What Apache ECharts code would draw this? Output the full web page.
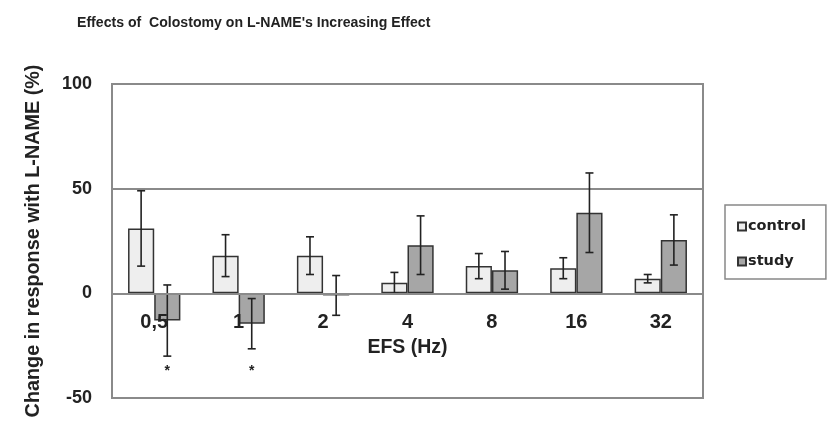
<!DOCTYPE html>
<html>
<head>
<meta charset="utf-8">
<script src="https://cdn.jsdelivr.net/npm/echarts@6/dist/echarts.min.js"></script>
<style>
  html, body { margin: 0; padding: 0; background: #fff; }
  #chart { width: 829px; height: 421px; }
</style>
</head>
<body>
<div id="chart"></div>
<script>
// EFS frequencies (Hz)
const categories = ['0,5', '1', '2', '4', '8', '16', '32'];
// Mean change in response with L-NAME (%) and its error
const controlMean = [31, 18, 18, 5, 13, 12, 7];
const controlErr = [18, 10, 9, 5, 6, 5, 2];
const studyMean = [-13, -14.5, -1, 23, 11, 38.5, 25.5];
const studyErr = [17, 12, 9.5, 14, 9, 19, 12];
// Significance markers under the study bars
const studyMarks = ['*', '*', '', '', '', '', ''];
const markLevel = -37;
// Value axis ticks
const yMin = -50, yMax = 100, yStep = 50;

const FONT = '"Liberation Sans", Arial, sans-serif';
const WIDE_FONT = '"DejaVu Sans", sans-serif';
const GAP = 0.38;          // bar category gap fraction
const BAR_FRAC = (1 - GAP) / 2;

function errorSeries(means, errs, side) {
  return {
    type: 'custom',
    silent: true,
    z: 5,
    data: means.map((m, i) => [i, m - errs[i], m + errs[i]]),
    renderItem: function (params, api) {
      const band = api.size([1, 0])[0];
      const off = side * band * BAR_FRAC / 2;
      const lo = api.coord([api.value(0), api.value(1)]);
      const hi = api.coord([api.value(0), api.value(2)]);
      const x = lo[0] + off;
      const cap = 4;
      const st = { stroke: '#222', lineWidth: 1.6 };
      return {
        type: 'group',
        children: [
          { type: 'line', shape: { x1: x, y1: lo[1], x2: x, y2: hi[1] }, style: st },
          { type: 'line', shape: { x1: x - cap, y1: lo[1], x2: x + cap, y2: lo[1] }, style: st },
          { type: 'line', shape: { x1: x - cap, y1: hi[1], x2: x + cap, y2: hi[1] }, style: st }
        ]
      };
    }
  };
}

const chart = echarts.init(document.getElementById('chart'), null, { renderer: 'canvas' });

chart.setOption({
  animation: false,
  backgroundColor: '#fff',
  title: {
    text: "Effects of  Colostomy on L-NAME's Increasing Effect",
    left: 72,
    top: 11,
    textStyle: { fontFamily: FONT, fontSize: 14.1, fontWeight: 'bold', color: '#222' }
  },
  legend: {
    orient: 'vertical',
    left: 725,
    top: 205,
    padding: [14, 20, 10, 12],
    itemGap: 20,
    itemWidth: 8,
    itemHeight: 8,
    borderColor: '#888',
    borderWidth: 1.5,
    icon: 'rect',
    data: ['control', 'study'],
    textStyle: { fontFamily: WIDE_FONT, fontSize: 14.5, fontWeight: 'bold', color: '#222', padding: [0, 0, 0, -3] }
  },
  grid: {
    left: 112,
    right: 126,
    top: 84,
    bottom: 23,
    containLabel: false,
    outerBoundsMode: 'none',
    show: true,
    borderColor: '#8a8a8a',
    borderWidth: 2,
    backgroundColor: '#fff'
  },
  xAxis: {
    type: 'category',
    data: categories,
    name: 'EFS (Hz)',
    nameLocation: 'middle',
    nameGap: -60,
    nameTextStyle: { fontFamily: FONT, fontSize: 19.5, fontWeight: 'bold', color: '#222' },
    axisLine: { onZero: true, lineStyle: { color: '#8a8a8a', width: 2 } },
    axisTick: { show: false },
    axisLabel: { margin: -86, fontFamily: FONT, fontSize: 20, fontWeight: 'bold', color: '#222' },
    z: 10
  },
  yAxis: {
    type: 'value',
    min: yMin,
    max: yMax,
    interval: yStep,
    name: 'Change in response with L-NAME (%)',
    nameLocation: 'middle',
    nameGap: 68,
    nameTextStyle: { fontFamily: FONT, fontSize: 19.8, fontWeight: 'bold', color: '#222' },
    axisLine: { show: true, lineStyle: { color: '#8a8a8a', width: 2 } },
    axisTick: { show: false },
    splitLine: { show: true, lineStyle: { color: '#8a8a8a', width: 2 } },
    axisLabel: { margin: 20, fontFamily: FONT, fontSize: 18, fontWeight: 'bold', color: '#222' }
  },
  series: [
    {
      name: 'control',
      type: 'bar',
      data: controlMean,
      barGap: '0%',
      barCategoryGap: (GAP * 100) + '%',
      itemStyle: { color: '#eeeeee', borderColor: '#333', borderWidth: 1.5 }
    },
    {
      name: 'study',
      type: 'bar',
      data: studyMean,
      itemStyle: { color: '#a6a6a6', borderColor: '#333', borderWidth: 1.5 }
    },
    errorSeries(controlMean, controlErr, -1),
    errorSeries(studyMean, studyErr, 1),
    {
      type: 'custom',
      silent: true,
      z: 6,
      data: studyMarks.map((m, i) => [i, markLevel, m]),
      renderItem: function (params, api) {
        const band = api.size([1, 0])[0];
        const p = api.coord([api.value(0), api.value(1)]);
        return {
          type: 'text',
          style: {
            x: p[0] + band * BAR_FRAC / 2,
            y: p[1],
            text: studyMarks[params.dataIndex],
            align: 'center',
            verticalAlign: 'middle',
            font: 'bold 14px ' + FONT,
            fill: '#222'
          }
        };
      }
    }
  ]
});
</script>
</body>
</html>
